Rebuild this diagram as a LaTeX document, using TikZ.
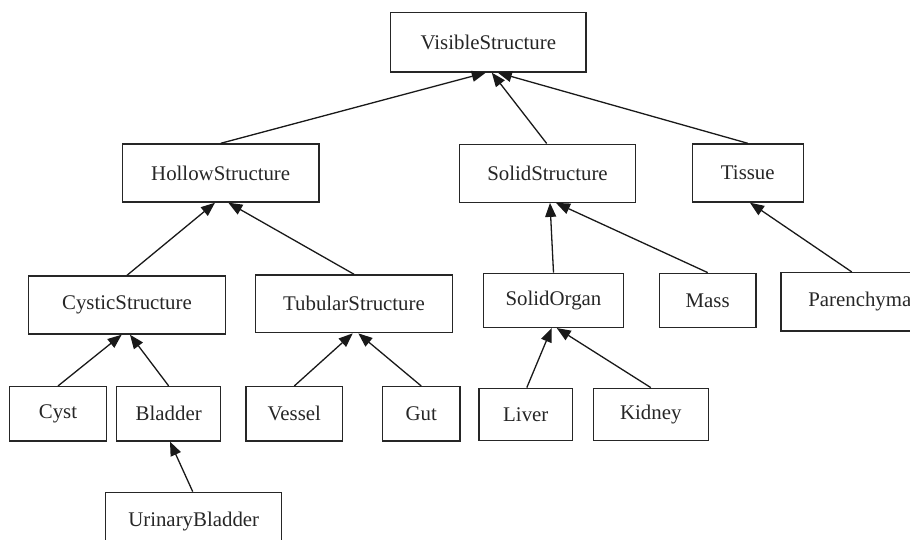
\documentclass[tikz,border=0pt]{standalone}
\usepackage{fontspec}
\setmainfont{Liberation Serif}
\usetikzlibrary{arrows.meta}
\begin{document}
\begin{tikzpicture}[x=1pt,y=-1pt,
  box/.style={draw=black!85, line width=1.4pt, inner sep=0pt, font=\fontsize{20.85}{25}\selectfont, text=black!85},
  arr/.style={draw=black!90, line width=1.3pt, -{Triangle[length=14pt,width=11pt]}}]
\useasboundingbox (0,0) rectangle (910,539);
\clip (0,0) rectangle (910,539);
% row 0
\node[box, minimum width=195.3pt, minimum height=59.3pt] (visible) at (488.3,42.3) {VisibleStructure};
% row 1
\node[box, minimum width=196.7pt, minimum height=58pt] (hollow) at (220.7,173) {HollowStructure};
\node[box, minimum width=176.4pt, minimum height=58pt] (solidstr) at (547.5,173.2) {SolidStructure};
\node[box, minimum width=111pt, minimum height=58pt] (tissue) at (747.8,173) {Tissue};
% row 2
\node[box, minimum width=197.4pt, minimum height=58pt] (cystic) at (127,305) {CysticStructure};
\node[box, minimum width=196.6pt, minimum height=57.7pt] (tubular) at (354,303.8) {TubularStructure};
\node[box, minimum width=140.4pt, minimum height=54pt] (solidorgan) at (553.5,300.3) {SolidOrgan};
\node[box, minimum width=96.7pt, minimum height=54pt] (mass) at (707.7,300.3) {Mass};
\node[box, minimum width=157.6pt, minimum height=58.3pt] (parenchyma) at (859.8,301.8) {Parenchyma};
% row 3
\node[box, minimum width=97.4pt, minimum height=54.3pt] (cyst) at (58,413.8) {Cyst};
\node[box, minimum width=104pt, minimum height=54.3pt] (bladder) at (168.7,413.8) {Bladder};
\node[box, minimum width=96.7pt, minimum height=54.3pt] (vessel) at (294.3,413.8) {Vessel};
\node[box, minimum width=77.7pt, minimum height=54.3pt] (gut) at (421.2,413.8) {Gut};
\node[box, minimum width=93.7pt, minimum height=52.4pt] (liver) at (525.8,414.5) {Liver};
\node[box, minimum width=115pt, minimum height=52.4pt] (kidney) at (650.8,414.5) {Kidney};
% row 4
\node[box, minimum width=176pt, minimum height=58pt] (urinary) at (193.7,521.3) {UrinaryBladder};
% edges
\draw[arr] (hollow.north) -- ([xshift=-2.5pt]visible.south);
\draw[arr] ([xshift=-0.8pt]solidstr.north) -- ([xshift=3.5pt]visible.south);
\draw[arr] (tissue.north) -- ([xshift=9.5pt]visible.south);
\draw[arr] (cystic.north) -- ([xshift=-5.7pt]hollow.south);
\draw[arr] (tubular.north) -- ([xshift=7.6pt]hollow.south);
\draw[arr] (solidorgan.north) -- ([xshift=2.5pt]solidstr.south);
\draw[arr] (mass.north) -- ([xshift=8.5pt]solidstr.south);
\draw[arr] ([xshift=-8pt]parenchyma.north) -- ([xshift=2.2pt]tissue.south);
\draw[arr] (cyst.north) -- ([xshift=-5.3pt]cystic.south);
\draw[arr] (bladder.north) -- ([xshift=3pt]cystic.south);
\draw[arr] (vessel.north) -- ([xshift=-1.3pt]tubular.south);
\draw[arr] (gut.north) -- ([xshift=4.3pt]tubular.south);
\draw[arr] ([xshift=-1pt]urinary.north) -- ([xshift=1.3pt]bladder.south);
\draw[arr] ([xshift=1pt]liver.north) -- ([xshift=-1.8pt]solidorgan.south);
\draw[arr] (kidney.north) -- ([xshift=3.2pt]solidorgan.south);
\end{tikzpicture}
\end{document}
